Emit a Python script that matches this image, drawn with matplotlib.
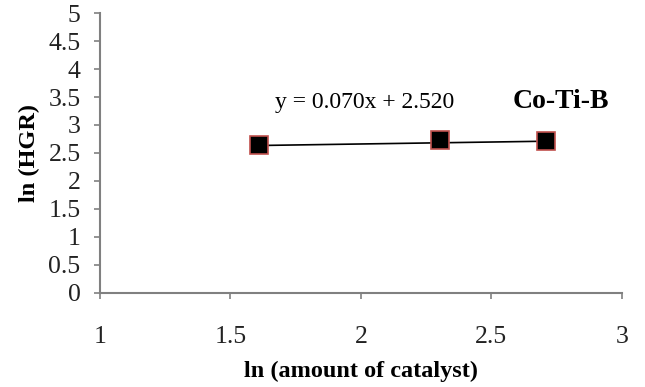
import matplotlib.pyplot as plt
import numpy as np

# ln(amount of catalyst) vs ln(HGR), Co-Ti-B
ln_cat = [1.609, 2.303, 2.708]
ln_hgr = [2.64, 2.73, 2.72]
slope = 0.070
intercept = 2.520

x_ticks = [1, 1.5, 2, 2.5, 3]
x_labels = ['1', '1.5', '2', '2.5', '3']
y_ticks = [0, 0.5, 1, 1.5, 2, 2.5, 3, 3.5, 4, 4.5, 5]
y_labels = ['0', '0.5', '1', '1.5', '2', '2.5', '3', '3.5', '4', '4.5', '5']

plt.rcParams['font.family'] = 'Liberation Serif'

fig = plt.figure(figsize=(6.45, 3.87), dpi=100)
ax = fig.add_axes([0.155, 0.2437, 0.809, 0.7223])

# trendline across the data range
xl = np.array([min(ln_cat), max(ln_cat)])
ax.plot(xl, slope * xl + intercept, color='k', linewidth=1.2, zorder=2)
ax.plot(ln_cat, ln_hgr, marker='s', linestyle='none', markersize=12.5,
        markerfacecolor='k', markeredgecolor='#c0504d', markeredgewidth=1.2, zorder=3)

ax.text(1.67, 3.41, 'y = 0.070x + 2.520', fontsize=17, va='center')
ax.text(2.58, 3.42, 'Co-Ti-B', fontsize=20, fontweight='bold', va='center')

ax.set_xlim(1, 3)
ax.set_ylim(0, 5)
ax.set_xticks(x_ticks)
ax.set_xticklabels(x_labels)
ax.set_yticks(y_ticks)
ax.set_yticklabels(y_labels)

for s in ['top', 'right']:
    ax.spines[s].set_visible(False)
for s in ['left', 'bottom']:
    ax.spines[s].set_color('#808080')
    ax.spines[s].set_linewidth(1.5)

ax.tick_params(axis='x', direction='out', length=4, width=1.2, color='#808080',
               labelsize=18.5, pad=20, labelcolor='#222222')
ax.tick_params(axis='y', direction='out', length=4, width=1.2, color='#808080',
               labelsize=18.5, pad=10, labelcolor='#222222')

ax.set_xlabel('ln (amount of catalyst)', fontsize=17.5, fontweight='bold', labelpad=9)
ax.set_ylabel('ln (HGR)', fontsize=17.5, fontweight='bold', labelpad=6)

plt.savefig('out.png', dpi=100)
